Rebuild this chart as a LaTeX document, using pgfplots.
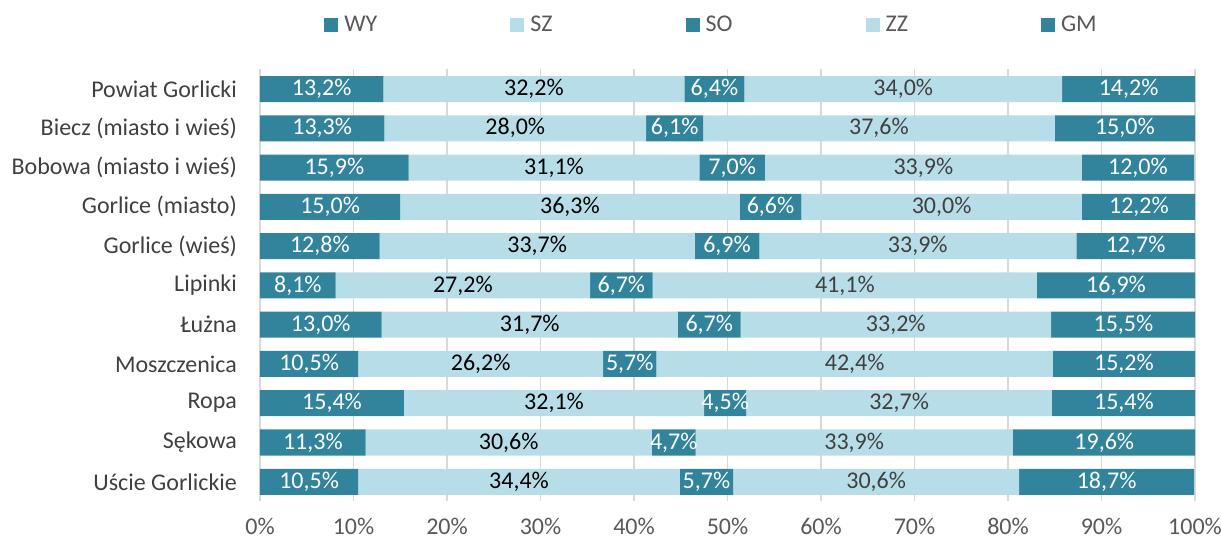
\documentclass[border=0pt]{standalone}
\usepackage{pgfplots}
\usepackage{pgfplotstable}
\pgfplotsset{compat=1.18}
\usepackage{fontspec}
\setmainfont{Carlito}
\definecolor{teal1}{HTML}{31849B}
\definecolor{light1}{HTML}{B7DEE8}
\definecolor{txtgray}{HTML}{404040}
\definecolor{tickgray}{HTML}{595959}
\definecolor{gridgray}{HTML}{D9D9D9}
\pgfplotstableread{
y  wy    sz    so   zz    gm
0  13.2  32.2  6.4  34.0  14.2
1  13.3  28.0  6.1  37.6  15.0
2  15.9  31.1  7.0  33.9  12.0
3  15.0  36.3  6.6  30.0  12.2
4  12.8  33.7  6.9  33.9  12.7
5  8.1   27.2  6.7  41.1  16.9
6  13.0  31.7  6.7  33.2  15.5
7  10.5  26.2  5.7  42.4  15.2
8  15.4  32.1  4.5  32.7  15.4
9  11.3  30.6  4.7  33.9  19.6
10 10.5  34.4  5.7  30.6  18.7
}\datatable
\pgfplotstablecreatecol[create col/expr={\thisrow{wy}/2}]{mwy}\datatable
\pgfplotstablecreatecol[create col/expr={\thisrow{wy}+\thisrow{sz}/2}]{msz}\datatable
\pgfplotstablecreatecol[create col/expr={\thisrow{wy}+\thisrow{sz}+\thisrow{so}/2}]{mso}\datatable
\pgfplotstablecreatecol[create col/expr={\thisrow{wy}+\thisrow{sz}+\thisrow{so}+\thisrow{zz}/2}]{mzz}\datatable
\pgfplotstablecreatecol[create col/expr={\thisrow{wy}+\thisrow{sz}+\thisrow{so}+\thisrow{zz}+\thisrow{gm}/2}]{mgm}\datatable
\pgfplotsset{
  common/.style={
    scale only axis,
    width=467.5pt, height=216pt,
    xmin=0, xmax=100,
    ymin=-0.5, ymax=10.5,
    y dir=reverse,
  },
  lbl/.style={draw=none, mark=none, nodes near coords={\pgfmathprintnumber[fixed,fixed zerofill,precision=1,use comma]{\pgfplotspointmeta}\%},
    point meta=explicit,
    every node near coord/.append style={font=\fontsize{12}{14}\selectfont, anchor=center, text=#1}},
}
\begin{document}
\begin{tikzpicture}
\begin{axis}[
  common,
  name=ax,
  xbar stacked,
  bar width=13pt,
  ytick={0,...,10},
  yticklabels={Powiat Gorlicki,Biecz (miasto i wieś),Bobowa (miasto i wieś),Gorlice (miasto),Gorlice (wieś),Lipinki,Łużna,Moszczenica,Ropa,Sękowa,Uście Gorlickie},
  xtick={0,10,...,100},
  xticklabel={\pgfmathprintnumber{\tick}\%},
  /pgf/number format/assume math mode=true,
  tick style={draw=none},
  axis line style={draw=none},
  xmajorgrids,
  grid style={gridgray, line width=0.8pt},
  yticklabel style={text=txtgray, font=\fontsize{12}{14}\selectfont, xshift=-8pt},
  xticklabel style={text=tickgray, font=\fontsize{12}{14}\selectfont, yshift=-5pt},
  legend columns=5,
  legend style={at={(0.484,1.103)}, anchor=center, draw=none, fill=none,
    font=\fontsize{12}{14}\selectfont, text=tickgray,
    /tikz/every odd column/.append style={column sep=1pt},
    /tikz/every even column/.append style={column sep=64.5pt}},
  legend image code/.code={\fill[#1] (0pt,-3.5pt) rectangle (7pt,3.5pt);},
]
\addplot[fill=teal1, draw=none] table[x=wy, y=y] {\datatable};
\addplot[fill=light1, draw=none] table[x=sz, y=y] {\datatable};
\addplot[fill=teal1, draw=none] table[x=so, y=y] {\datatable};
\addplot[fill=light1, draw=none] table[x=zz, y=y] {\datatable};
\addplot[fill=teal1, draw=none] table[x=gm, y=y] {\datatable};
\legend{WY,SZ,SO,ZZ,GM}
\end{axis}
\begin{axis}[common, hide axis, /pgf/number format/assume math mode=true]
\addplot[lbl=white] table[x=mwy, y=y, meta=wy] {\datatable};
\addplot[lbl=black] table[x=msz, y=y, meta=sz] {\datatable};
\addplot[lbl=white] table[x=mso, y=y, meta=so] {\datatable};
\addplot[lbl=txtgray] table[x=mzz, y=y, meta=zz] {\datatable};
\addplot[lbl=white] table[x=mgm, y=y, meta=gm] {\datatable};
\end{axis}
\pgfresetboundingbox
\path[use as bounding box] ([xshift=-130pt,yshift=-20pt]ax.south west) rectangle ([xshift=13pt,yshift=34.7pt]ax.north east);
\end{tikzpicture}
\end{document}
